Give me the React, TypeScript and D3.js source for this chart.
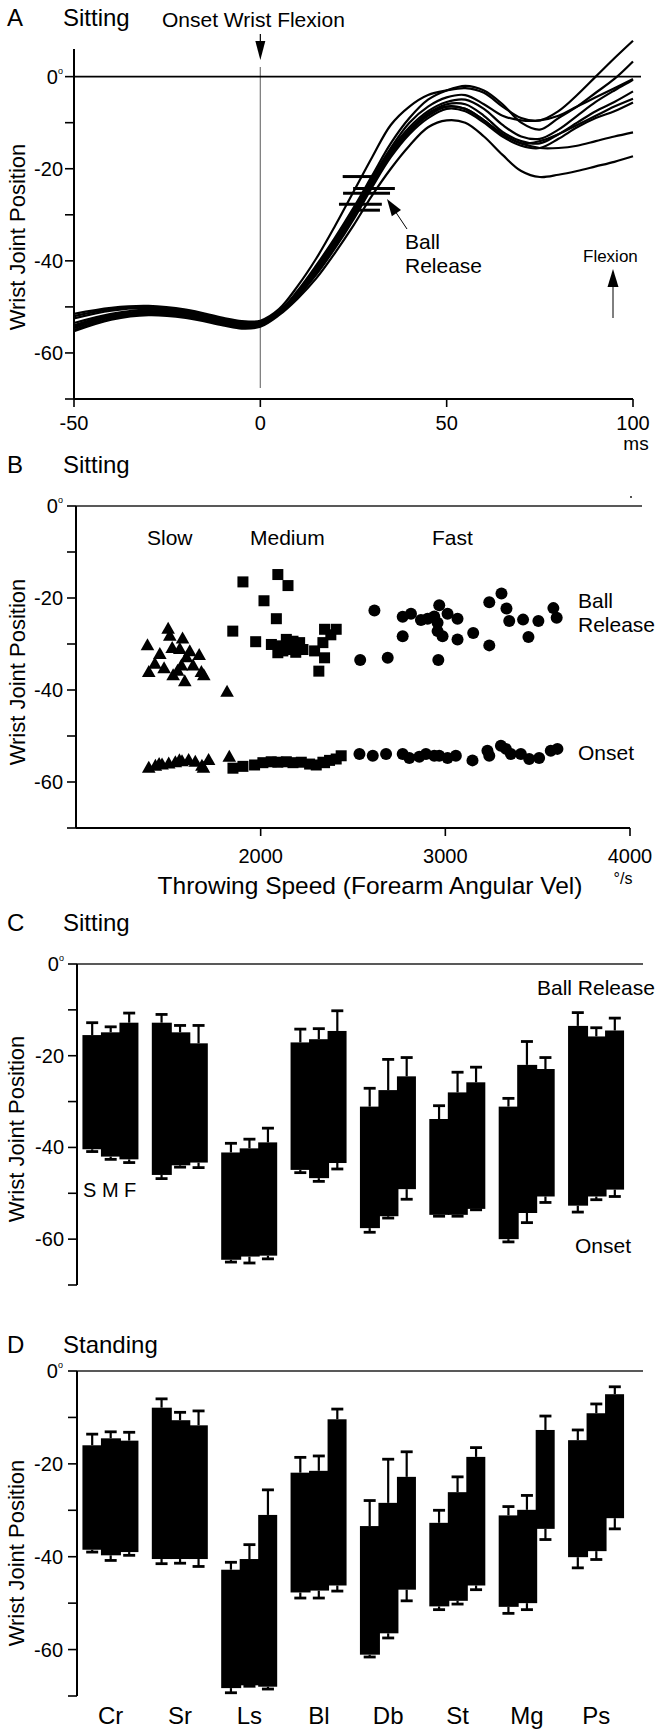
import React from 'react';
import * as d3 from 'd3';

const FONT = '"Liberation Sans", Arial, Helvetica, sans-serif';

// ---------- Panel A: wrist trajectories (time ms, degrees) ----------
const timeTicks = [-50, 0, 50, 100];
const curveA1: [number, number][] = [[-50,-51.5],[-40,-50.2],[-30,-49.8],[-20,-50.6],[-10,-52.4],[-5,-53.1],[0,-53.0],[5,-50.5],[10,-45.5],[15,-39.5],[20,-32.5],[25,-25],[30,-17.5],[35,-10.5],[40,-6.5],[45,-4],[50,-3],[55,-2.5],[60,-3.5],[65,-6.5],[70,-9],[75,-9.5],[80,-7.5],[85,-4],[90,0],[95,4],[100,7.8]];
const curveA2: [number, number][] = [[-50,-52.0],[-40,-50.5],[-30,-50.0],[-20,-50.9],[-10,-52.6],[-5,-53.2],[0,-53.2],[5,-51],[10,-46.5],[15,-41],[20,-35],[25,-28.5],[30,-21.5],[35,-14.5],[40,-9],[45,-5],[50,-3],[55,-2],[60,-3],[65,-6],[70,-10],[75,-11.5],[80,-9],[85,-6.5],[90,-3.5],[95,-0.5],[100,3.3]];
const curveA3: [number, number][] = [[-50,-52.5],[-40,-50.8],[-30,-50.3],[-20,-51.1],[-10,-52.8],[-5,-53.5],[0,-53.4],[5,-51],[10,-47],[15,-41.5],[20,-35.5],[25,-29],[30,-22],[35,-15.5],[40,-10],[45,-6.5],[50,-4.5],[55,-4],[60,-6],[65,-8.5],[70,-9.5],[75,-9.5],[80,-8.5],[85,-6.5],[90,-4.5],[95,-2.5],[100,-0.5]];
const curveA4: [number, number][] = [[-50,-53.5],[-40,-51.5],[-30,-50.6],[-20,-51.3],[-10,-53.0],[-5,-53.7],[0,-53.5],[5,-51.2],[10,-47],[15,-42],[20,-36],[25,-29.5],[30,-22.5],[35,-16],[40,-11],[45,-7.5],[50,-5.5],[55,-5],[60,-7],[65,-10.5],[70,-13],[75,-13.5],[80,-11.5],[85,-8.5],[90,-5.5],[95,-3],[100,-0.7]];
const curveA5: [number, number][] = [[-50,-54.0],[-40,-51.8],[-30,-50.9],[-20,-51.6],[-10,-53.2],[-5,-53.9],[0,-53.7],[5,-51.3],[10,-47.3],[15,-42.3],[20,-36.5],[25,-30],[30,-23],[35,-16.5],[40,-11.5],[45,-8],[50,-6],[55,-6],[60,-8.5],[65,-12],[70,-14],[75,-14.5],[80,-12.5],[85,-10],[90,-7.5],[95,-5.5],[100,-3.2]];
const curveA6: [number, number][] = [[-50,-54.3],[-40,-52.0],[-30,-51.1],[-20,-51.8],[-10,-53.4],[-5,-54.1],[0,-53.8],[5,-51.3],[10,-47.5],[15,-42.5],[20,-36.8],[25,-30.3],[30,-23.5],[35,-17],[40,-12],[45,-8.5],[50,-6.5],[55,-7],[60,-9.5],[65,-12.5],[70,-14.5],[75,-14],[80,-12.5],[85,-10.5],[90,-8.5],[95,-6.5],[100,-4.8]];
const curveA7: [number, number][] = [[-50,-54.6],[-40,-52.3],[-30,-51.3],[-20,-52.0],[-10,-53.6],[-5,-54.3],[0,-54.0],[5,-51.5],[10,-47.8],[15,-43],[20,-37.3],[25,-31],[30,-24],[35,-17.5],[40,-12.5],[45,-9],[50,-7],[55,-7.5],[60,-10],[65,-13],[70,-15],[75,-15.5],[80,-13.5],[85,-11],[90,-9],[95,-7.5],[100,-5.6]];
const curveA8: [number, number][] = [[-50,-55.0],[-40,-52.6],[-30,-51.6],[-20,-52.2],[-10,-53.8],[-5,-54.5],[0,-54.1],[5,-51.2],[10,-47.2],[15,-42.2],[20,-36.3],[25,-29.8],[30,-23],[35,-16.5],[40,-12],[45,-8],[50,-6.5],[55,-7],[60,-9.5],[65,-12.5],[70,-14.5],[75,-15.5],[80,-15.5],[85,-15],[90,-14],[95,-13],[100,-12.1]];
const curveA9: [number, number][] = [[-50,-55.3],[-40,-52.8],[-30,-51.8],[-20,-52.4],[-10,-54.0],[-5,-54.7],[0,-54.3],[5,-51.8],[10,-48.2],[15,-43.8],[20,-38.3],[25,-32.3],[30,-25.8],[35,-20],[40,-15],[45,-11],[50,-9.5],[55,-10],[60,-13],[65,-17],[70,-20.5],[75,-21.8],[80,-21.3],[85,-20.5],[90,-19.5],[95,-18.5],[100,-17.3]];
const curvesA = [curveA1, curveA2, curveA3, curveA4, curveA5, curveA6, curveA7, curveA8, curveA9];
// ball release marks: [t start, t end, angle]
const releaseMarks: [number, number, number][] = [[22.1, 29.9, -21.7], [24.9, 36.1, -24.3], [22.2, 34.8, -25.3], [21.1, 32.6, -27.7], [25.4, 32.1, -29.0]];

// ---------- Panel B: scatter (deg/s, degrees) ----------
const speedTicks = [2000, 3000, 4000];
const slowRelease: [number, number][] = [[1387,-30.4],[1499,-26.8],[1508,-28.3],[1577,-28.9],[1454,-32.3],[1521,-31.0],[1562,-31.2],[1616,-31.7],[1667,-32.5],[1427,-34.4],[1394,-36.2],[1477,-35.4],[1526,-36.9],[1589,-38.2],[1571,-34.8],[1634,-34.8],[1679,-36.2],[1692,-36.9],[1598,-33.0],[1550,-35.9],[1818,-40.5]];
const slowOnset: [number, number][] = [[1394,-57.0],[1430,-56.6],[1466,-56.3],[1502,-56.1],[1538,-55.8],[1574,-55.6],[1610,-55.3],[1646,-55.7],[1682,-56.6],[1718,-55.3],[1830,-54.6],[1450,-56.2],[1560,-55.4],[1690,-57.0]];
const mediumRelease: [number, number][] = [[1849,-27.2],[1904,-16.5],[1973,-29.5],[2018,-20.6],[2058,-30.1],[2085,-24.5],[2093,-14.9],[2103,-30.4],[2139,-29.0],[2148,-17.3],[2093,-31.9],[2157,-31.2],[2175,-29.4],[2211,-29.7],[2229,-31.2],[2120,-31.5],[2190,-31.8],[2292,-31.5],[2315,-35.9],[2337,-29.7],[2346,-26.8],[2346,-33.0],[2409,-26.8],[2380,-28.0]];
const mediumOnset: [number, number][] = [[1850,-57.0],[1904,-56.6],[1967,-56.3],[2012,-55.8],[2057,-55.6],[2093,-55.7],[2139,-55.6],[2175,-55.8],[2220,-55.7],[2265,-56.1],[2301,-56.3],[2346,-55.8],[2337,-55.7],[2373,-55.3],[2409,-55.0],[2436,-54.3]];
const fastRelease: [number, number][] = [[2616,-22.7],[2539,-33.5],[2688,-33.0],[2769,-24.1],[2814,-23.4],[2769,-28.3],[2868,-24.8],[2904,-24.5],[2940,-24.0],[2967,-21.6],[2958,-25.4],[3012,-23.4],[3066,-24.5],[2958,-27.2],[2985,-28.3],[3066,-29.0],[2962,-33.5],[3151,-27.6],[3238,-30.3],[3238,-20.9],[3304,-19.0],[3331,-22.3],[3346,-25.0],[3421,-24.7],[3450,-28.5],[3504,-25.0],[3585,-22.2],[3603,-24.3]];
const fastOnset: [number, number][] = [[2535,-53.9],[2607,-54.3],[2679,-53.9],[2769,-53.9],[2805,-54.8],[2859,-54.5],[2895,-53.9],[2940,-54.3],[2967,-54.3],[3012,-54.8],[3057,-54.3],[3147,-55.3],[3228,-53.2],[3238,-54.3],[3301,-52.1],[3328,-52.8],[3355,-53.9],[3409,-53.9],[3454,-55.0],[3508,-54.8],[3571,-53.2],[3607,-52.8]];

// ---------- Panels C & D: ranges per muscle and speed ----------
const muscles = ['Cr', 'Sr', 'Ls', 'Bl', 'Db', 'St', 'Mg', 'Ps'];
const speeds = ['S', 'M', 'F'];
const degTicks = [0, -10, -20, -30, -40, -50, -60, -70];
const degLabels = [-20, -40, -60];

const sitRelease = [[-15.5,-14.9,-12.8],[-12.8,-14.9,-17.3],[-41.1,-40.2,-38.9],[-17.1,-16.4,-14.6],[-31.1,-27.5,-24.5],[-33.8,-28.0,-25.8],[-31.1,-22.0,-22.9],[-13.5,-15.8,-14.5]];
const sitReleaseErr = [[-12.8,-13.7,-10.7],[-11.0,-13.4,-13.4],[-39.1,-38.2,-35.8],[-14.2,-14.1,-10.2],[-27.1,-20.8,-20.4],[-30.9,-23.6,-22.5],[-29.3,-16.9,-20.4],[-10.6,-13.9,-11.8]];
const sitOnset = [[-40.4,-42.0,-42.6],[-46.0,-43.9,-43.3],[-64.5,-63.8,-63.6],[-44.9,-46.7,-43.4],[-57.6,-55.0,-49.1],[-54.7,-54.7,-53.4],[-60.0,-54.3,-50.7],[-52.7,-50.7,-49.2]];
const sitOnsetErr = [[-40.9,-42.6,-43.3],[-46.8,-44.3,-44.4],[-65.0,-65.2,-64.3],[-45.5,-47.4,-44.7],[-58.5,-55.4,-51.3],[-55.0,-55.0,-53.6],[-60.6,-56.4,-52.0],[-54.1,-51.4,-50.7]];

const standRelease = [[-16.0,-14.5,-15.0],[-7.9,-10.6,-11.7],[-42.8,-40.5,-31.0],[-21.9,-21.5,-10.4],[-33.4,-28.4,-22.8],[-32.7,-26.1,-18.5],[-31.1,-29.9,-12.7],[-14.9,-9.1,-5.0]];
const standReleaseErr = [[-13.6,-13.1,-13.2],[-6.0,-8.9,-8.6],[-41.2,-37.4,-25.6],[-18.6,-18.3,-8.2],[-27.9,-19.0,-17.4],[-30.0,-22.8,-16.5],[-29.2,-26.8,-9.7],[-12.7,-7.1,-3.4]];
const standOnset = [[-38.5,-39.7,-39.0],[-40.5,-40.5,-40.5],[-68.3,-67.7,-68.0],[-47.7,-47.3,-46.2],[-61.1,-56.5,-47.1],[-50.7,-49.5,-46.2],[-50.8,-50.0,-34.0],[-40.1,-38.8,-31.7]];
const standOnsetErr = [[-39.0,-40.8,-39.7],[-41.5,-41.4,-42.1],[-69.3,-67.9,-68.5],[-48.9,-48.9,-47.4],[-61.6,-57.5,-49.5],[-51.4,-50.2,-47.1],[-52.2,-51.4,-36.3],[-42.4,-40.6,-34.0]];

// ---------- helpers ----------
const Deg0 = ({ x, y }: { x: number; y: number }) => (
  <text x={x} y={y} textAnchor="end" fontSize={20} fontFamily={FONT}>
    0<tspan fontSize={9} dy={-10}>o</tspan>
  </text>
);

function arrowHead(tipX: number, tipY: number, fromX: number, fromY: number, len: number, half: number) {
  const dx = tipX - fromX, dy = tipY - fromY;
  const L = Math.hypot(dx, dy);
  const ux = dx / L, uy = dy / L;
  const bx = tipX - ux * len, by = tipY - uy * len;
  const nx = -uy, ny = ux;
  return `M${tipX},${tipY}L${bx + nx * half},${by + ny * half}L${bx - nx * half},${by - ny * half}Z`;
}

const YAxisDeg = ({ x, y, top, labelX }: { x: number; y: d3.ScaleLinear<number, number>; top: number; labelX: number }) => (
  <g>
    <line x1={x} x2={x} y1={top} y2={y(-70)} stroke="#000" strokeWidth={2} />
    {degTicks.map((t) => (
      <line key={t} x1={x - 9} x2={x} y1={y(t)} y2={y(t)} stroke="#000" strokeWidth={1.6} />
    ))}
    {degLabels.map((t) => (
      <text key={t} x={labelX} y={y(t) + 7} textAnchor="end" fontSize={20} fontFamily={FONT}>{t}</text>
    ))}
    <Deg0 x={labelX} y={y(0) + 7} />
  </g>
);

const RangePanel = ({ y, release, releaseErr, onset, onsetErr }: { y: d3.ScaleLinear<number, number>; release: number[][]; releaseErr: number[][]; onset: number[][]; onsetErr: number[][] }) => {
  const band = d3.scaleBand<string>().domain(muscles).range([76, 631]).paddingInner(0.2).paddingOuter(0.1);
  const sub = d3.scaleBand<string>().domain(speeds).range([0, band.bandwidth()]);
  return (
    <g>
      {muscles.map((m, i) => (
        <g key={m} transform={`translate(${band(m)},0)`}>
          {speeds.map((s, j) => {
            const x0 = sub(s)!;
            const w = sub.bandwidth();
            const cx = x0 + w / 2;
            const yt = y(release[i][j]);
            const yb = y(onset[i][j]);
            return (
              <rect key={s} x={x0 - 0.5} y={yt} width={w + (j < 2 ? 1.5 : 0.5)} height={yb - yt} fill="#000" />
            );
          })}
          {speeds.map((s, j) => {
            const x0 = sub(s)!;
            const w = sub.bandwidth();
            const cx = x0 + w / 2;
            const yt = y(release[i][j]);
            const yb = y(onset[i][j]);
            const ye1 = y(releaseErr[i][j]);
            const ye2 = y(onsetErr[i][j]);
            return (
              <g key={'e' + s}>
                <line x1={cx} x2={cx} y1={yt} y2={ye1} stroke="#000" strokeWidth={2.2} />
                <line x1={cx - 6} x2={cx + 6} y1={ye1} y2={ye1} stroke="#000" strokeWidth={2.8} />
                <line x1={cx} x2={cx} y1={yb} y2={ye2} stroke="#000" strokeWidth={2.2} />
                <line x1={cx - 6} x2={cx + 6} y1={ye2} y2={ye2} stroke="#000" strokeWidth={2.8} />
              </g>
            );
          })}
        </g>
      ))}
    </g>
  );
};

export default function App() {
  // Panel A scales
  const xA = d3.scaleLinear().domain([-50, 100]).range([74, 633]);
  const yA = d3.scaleLinear().domain([-70, 6]).range([399, 49]);
  const lineA = d3.line<[number, number]>().x((d) => xA(d[0])).y((d) => yA(d[1])).curve(d3.curveCatmullRom.alpha(0.5));

  // Panel B scales
  const xB = d3.scaleLinear().domain([1000, 4000]).range([76, 630]);
  const yB = d3.scaleLinear().domain([-70, 0]).range([828, 506]);

  // Panel C, D scales
  const yC = d3.scaleLinear().domain([-70, 0]).range([1285, 964]);
  const yD = d3.scaleLinear().domain([-70, 0]).range([1696, 1371]);
  const bandD = d3.scaleBand<string>().domain(muscles).range([76, 631]).paddingInner(0.2).paddingOuter(0.1);

  const tri = (x: number, y: number) => `M${x},${y - 7.5}L${x + 6.8},${y + 4.5}L${x - 6.8},${y + 4.5}Z`;

  return (
    <svg width={656} height={1730} style={{ position: 'absolute', left: 0, top: 0, background: '#fff' }} fontFamily={FONT}>
      <rect x={0} y={0} width={656} height={1730} fill="#fff" />

      {/* ================= Panel A ================= */}
      <text x={7} y={26} fontSize={24}>A</text>
      <text x={63} y={26} fontSize={24}>Sitting</text>
      <text x={162} y={27} fontSize={21}>Onset Wrist Flexion</text>
      <line x1={xA(0)} x2={xA(0)} y1={34} y2={46} stroke="#000" strokeWidth={1.2} />
      <path d={arrowHead(xA(0), 60, xA(0), 30, 19, 5)} fill="#000" />
      <line x1={xA(0)} x2={xA(0)} y1={67} y2={388} stroke="#808080" strokeWidth={1.3} />
      <line x1={74} x2={641} y1={yA(0)} y2={yA(0)} stroke="#000" strokeWidth={1.6} />
      {curvesA.map((c, i) => (
        <path key={i} d={lineA(c) || ''} fill="none" stroke="#000" strokeWidth={2.2} />
      ))}
      {releaseMarks.map((r, i) => (
        <line key={i} x1={xA(r[0])} x2={xA(r[1])} y1={yA(r[2])} y2={yA(r[2])} stroke="#000" strokeWidth={3} />
      ))}
      <line x1={407} y1={229} x2={393} y2={208} stroke="#000" strokeWidth={1} />
      <path d={arrowHead(387, 199, 407, 229, 17, 5.5)} fill="#000" />
      <text x={405} y={249} fontSize={21}>Ball</text>
      <text x={405} y={273} fontSize={21}>Release</text>
      <text x={583} y={262} fontSize={17}>Flexion</text>
      <line x1={613} x2={613} y1={318} y2={284} stroke="#000" strokeWidth={1} />
      <path d={arrowHead(613, 269, 613, 318, 18, 5.5)} fill="#000" />
      {/* axes */}
      <line x1={74} x2={74} y1={49} y2={399} stroke="#000" strokeWidth={2} />
      <line x1={74} x2={633} y1={399} y2={399} stroke="#000" strokeWidth={2} />
      {d3.range(-70, 1, 10).map((t) => (
        <line key={t} x1={65} x2={74} y1={yA(t)} y2={yA(t)} stroke="#000" strokeWidth={1.6} />
      ))}
      {degLabels.map((t) => (
        <text key={t} x={63} y={yA(t) + 7} textAnchor="end" fontSize={20}>{t}</text>
      ))}
      <Deg0 x={63} y={yA(0) + 7} />
      {timeTicks.map((t) => (
        <g key={t}>
          <line x1={xA(t)} x2={xA(t)} y1={399} y2={407} stroke="#000" strokeWidth={1.6} />
          <text x={xA(t)} y={430} textAnchor="middle" fontSize={20}>{t}</text>
        </g>
      ))}
      <text x={636} y={450} textAnchor="middle" fontSize={19}>ms</text>
      <text transform={`translate(25,237) rotate(-90)`} textAnchor="middle" fontSize={22}>Wrist Joint Position</text>

      {/* ================= Panel B ================= */}
      <text x={7} y={473} fontSize={24}>B</text>
      <text x={63} y={473} fontSize={24}>Sitting</text>
      <line x1={76} x2={642} y1={yB(0)} y2={yB(0)} stroke="#222" strokeWidth={1.6} />
      <circle cx={631} cy={497} r={0.9} fill="#000" />
      <line x1={76} x2={76} y1={yB(0)} y2={yB(-70)} stroke="#000" strokeWidth={2} />
      <line x1={76} x2={630} y1={yB(-70)} y2={yB(-70)} stroke="#000" strokeWidth={2} />
      {d3.range(-70, 1, 10).map((t) => (
        <line key={t} x1={67} x2={76} y1={yB(t)} y2={yB(t)} stroke="#000" strokeWidth={1.6} />
      ))}
      {degLabels.map((t) => (
        <text key={t} x={63} y={yB(t) + 7} textAnchor="end" fontSize={20}>{t}</text>
      ))}
      <Deg0 x={63} y={yB(0) + 7} />
      {speedTicks.map((t) => (
        <g key={t}>
          <line x1={xB(t)} x2={xB(t)} y1={828} y2={836} stroke="#000" strokeWidth={1.6} />
          <text x={xB(t)} y={863} textAnchor="middle" fontSize={20}>{t}</text>
        </g>
      ))}
      <text x={370} y={894} textAnchor="middle" fontSize={24.5}>Throwing Speed (Forearm Angular Vel)</text>
      <text x={623} y={884} textAnchor="middle" fontSize={16}>°/s</text>
      <text transform={`translate(25,672) rotate(-90)`} textAnchor="middle" fontSize={22}>Wrist Joint Position</text>
      <text x={147} y={545} fontSize={21}>Slow</text>
      <text x={250} y={545} fontSize={21}>Medium</text>
      <text x={432} y={545} fontSize={21}>Fast</text>
      <text x={578} y={608} fontSize={21}>Ball</text>
      <text x={578} y={632} fontSize={21}>Release</text>
      <text x={578} y={760} fontSize={21}>Onset</text>
      {[...slowRelease, ...slowOnset].map((d, i) => (
        <path key={'t' + i} d={tri(xB(d[0]), yB(d[1]))} fill="#000" />
      ))}
      {[...mediumRelease, ...mediumOnset].map((d, i) => (
        <rect key={'s' + i} x={xB(d[0]) - 5.5} y={yB(d[1]) - 5.5} width={11} height={11} fill="#000" />
      ))}
      {[...fastRelease, ...fastOnset].map((d, i) => (
        <circle key={'c' + i} cx={xB(d[0])} cy={yB(d[1])} r={6} fill="#000" />
      ))}

      {/* ================= Panel C ================= */}
      <text x={7} y={931} fontSize={24}>C</text>
      <text x={63} y={931} fontSize={24}>Sitting</text>
      <line x1={77} x2={643} y1={yC(0)} y2={yC(0)} stroke="#222" strokeWidth={1.6} />
      <YAxisDeg x={77} y={yC} top={yC(0)} labelX={64} />
      <text transform={`translate(24,1129) rotate(-90)`} textAnchor="middle" fontSize={22}>Wrist Joint Position</text>
      <RangePanel y={yC} release={sitRelease} releaseErr={sitReleaseErr} onset={sitOnset} onsetErr={sitOnsetErr} />
      <text x={537} y={995} fontSize={21}>Ball Release</text>
      <text x={575} y={1253} fontSize={21}>Onset</text>
      <text x={83} y={1197} fontSize={20}>S M F</text>

      {/* ================= Panel D ================= */}
      <text x={7} y={1353} fontSize={24}>D</text>
      <text x={63} y={1353} fontSize={24}>Standing</text>
      <line x1={77} x2={643} y1={yD(0)} y2={yD(0)} stroke="#222" strokeWidth={1.6} />
      <YAxisDeg x={77} y={yD} top={yD(0)} labelX={63} />
      <text transform={`translate(24,1553) rotate(-90)`} textAnchor="middle" fontSize={22}>Wrist Joint Position</text>
      <RangePanel y={yD} release={standRelease} releaseErr={standReleaseErr} onset={standOnset} onsetErr={standOnsetErr} />
      {muscles.map((m) => (
        <text key={m} x={bandD(m)! + bandD.bandwidth() / 2} y={1724} textAnchor="middle" fontSize={24}>{m}</text>
      ))}
    </svg>
  );
}
